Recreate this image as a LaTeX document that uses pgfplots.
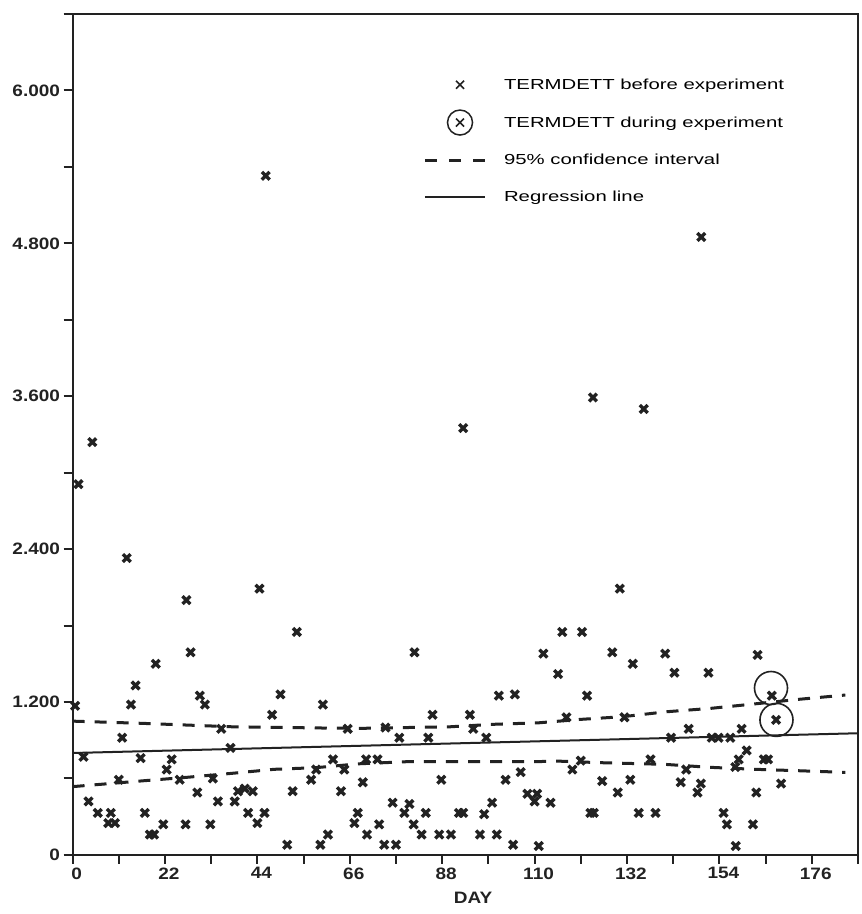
\documentclass[border=0pt]{standalone}
\usepackage{fontspec}
\setmainfont{Liberation Sans}
\newfontfamily\legfont[FakeStretch=1.4]{Liberation Sans}
\newfontfamily\tickfont[FakeStretch=1.15]{Liberation Sans}
\usepackage{pgfplots}
\pgfplotsset{compat=1.18}
\definecolor{ink}{HTML}{222222}
\begin{document}
\begin{tikzpicture}
\begin{axis}[
  name=ax, scale only axis, width=784.5pt, height=840pt,
  xmin=0, xmax=187, ymin=0, ymax=6.6,
  axis line style={line width=2pt, ink},
  tick pos=left, tick align=outside,
  major tick length=9pt, minor tick length=9pt,
  major tick style={line width=2pt, ink},
  minor tick style={line width=2pt, ink},
  xtick={0,22,44,66,88,110,132,154,176},
  minor xtick={11,33,55,77,99,121,143,165,187},
  ytick={0,1.2,2.4,3.6,4.8,6.0},
  yticklabels={0,1.200,2.400,3.600,4.800,6.000},
  minor ytick={0.6,1.8,3.0,4.2,5.4,6.6},
  ticklabel style={font=\tickfont\bfseries\fontsize{16.5}{18}\selectfont, text=ink},
  xticklabel style={xshift=4pt},
  /pgf/number format/assume math mode=true,
  xlabel={DAY},
  xlabel style={font=\tickfont\bfseries\fontsize{16.5}{18}\selectfont, text=ink,
    at={(axis description cs:0.51,0)}, anchor=center, yshift=-43pt},
  clip=false,
  legend cell align=left,
  legend style={at={(rel axis cs:0.4468,0.931)}, anchor=north west,
    draw=none, fill=none, inner sep=0pt, row sep=12pt, column sep=0pt,
    font=\legfont\fontsize{14.5}{16}\selectfont,
    nodes={inner sep=0pt}},
]
\addplot[only marks, mark=x, mark size=5.5pt, color=ink,
  mark options={line width=3.4pt},
  legend image code/.code={\path[draw=none,fill=none] (0,-12.5pt) rectangle (79pt,12.5pt);
    \draw[line width=1.5pt, solid] (31pt,-4pt)--(39pt,4pt) (31pt,4pt)--(39pt,-4pt);}]
coordinates {
(1.4,2.91)(4.7,3.24)(46.0,5.33)
(12.9,2.33)(44.5,2.09)(27.1,2.00)(53.4,1.75)(28.1,1.59)(19.8,1.50)(15.0,1.33)
(30.3,1.25)(31.5,1.18)(49.5,1.26)(0.6,1.17)(13.9,1.18)(47.5,1.10)(59.6,1.18)
(35.4,0.99)(11.8,0.92)(37.6,0.84)(2.6,0.77)(16.2,0.76)(23.6,0.75)(22.4,0.67)
(62.0,0.75)(11.0,0.59)(25.5,0.59)(33.4,0.60)(58.0,0.67)(56.8,0.59)(3.8,0.42)
(6.0,0.33)(9.1,0.33)(8.5,0.25)(10.1,0.25)(29.7,0.49)(34.6,0.42)(39.4,0.50)
(41.0,0.52)(42.9,0.50)(38.6,0.42)(52.4,0.50)(17.2,0.33)(18.4,0.16)(19.4,0.16)
(21.6,0.24)(26.9,0.24)(32.8,0.24)(41.8,0.33)(45.7,0.33)(44.0,0.25)(51.1,0.08)
(59.0,0.08)(60.8,0.16)
(93.0,3.35)
(81.4,1.59)(116.6,1.75)(121.3,1.75)(112.1,1.58)(115.6,1.42)(101.5,1.25)(105.3,1.26)
(122.5,1.25)(85.7,1.10)(94.6,1.10)(65.5,0.99)(74.5,1.00)(95.4,0.99)(77.8,0.92)
(84.7,0.92)(98.5,0.92)(117.6,1.08)(64.7,0.67)(69.9,0.75)(72.6,0.75)(69.1,0.57)
(63.9,0.50)(87.8,0.59)(103.1,0.59)(106.7,0.65)(121.0,0.74)(119.0,0.67)(76.2,0.41)
(80.2,0.40)(79.0,0.33)(84.1,0.33)(81.2,0.24)(83.1,0.16)(87.3,0.16)(90.1,0.16)
(92.0,0.33)(93.0,0.33)(98.0,0.32)(99.9,0.41)(97.0,0.16)(101.0,0.16)(67.9,0.33)
(67.1,0.25)(73.0,0.24)(70.1,0.16)(74.2,0.08)(77.0,0.08)(104.9,0.08)(111.0,0.07)
(108.3,0.48)(110.6,0.48)(110.0,0.42)(113.8,0.41)(123.3,0.33)
(149.7,4.85)(123.9,3.59)(136.0,3.50)
(130.3,2.09)(128.5,1.59)(133.4,1.50)(141.1,1.58)(143.3,1.43)(151.4,1.43)(163.1,1.57)
(131.4,1.08)(146.7,0.99)(142.5,0.92)(159.3,0.99)(152.2,0.92)(153.8,0.92)(156.6,0.92)
(160.5,0.82)(158.6,0.75)(164.6,0.75)(165.6,0.75)(137.6,0.75)(146.1,0.67)(157.8,0.69)
(126.1,0.58)(132.8,0.59)(129.8,0.49)(144.8,0.57)(149.6,0.56)(148.8,0.49)(162.8,0.49)
(168.7,0.56)(124.1,0.33)(134.8,0.33)(138.8,0.33)(155.0,0.33)(155.8,0.24)(162.0,0.24)
(157.9,0.07)
};
\addlegendentry{TERMDETT before experiment}
\addplot[only marks, mark=x, mark size=5.5pt, color=ink,
  mark options={line width=3.4pt},
  legend image code/.code={\path[draw=none,fill=none] (0,-12.5pt) rectangle (79pt,12.5pt);
    \draw[line width=1.5pt, solid] (31pt,-4pt)--(39pt,4pt) (31pt,4pt)--(39pt,-4pt);
    \draw[line width=1.5pt, solid] (35pt,0pt) circle (12.5pt);}]
coordinates {(166.5,1.25)(167.5,1.06)};
\addlegendentry{TERMDETT during experiment}
\addplot[only marks, mark=o, mark size=16.5pt, color=ink, forget plot,
  mark options={line width=1.6pt}]
coordinates {(166.3,1.31)(167.6,1.06)};
\addplot[line width=3pt, color=ink, dash pattern=on 12pt off 10pt,
  legend image code/.code={\path[draw=none,fill=none] (0,-12.5pt) rectangle (79pt,12.5pt);
    \draw[line width=2.6pt, dash pattern=on 12pt off 12pt] (0pt,0pt)--(60pt,0pt);}]
coordinates {(0,1.05)(16.4,1.033)(37.8,1.006)(62,0.995)(69.5,0.994)(90,1.006)
(100,1.025)(111,1.037)(121,1.064)(131,1.085)(141.5,1.124)(151.8,1.15)(162,1.184)
(172.5,1.22)(184,1.255)};
\addlegendentry{95\% confidence interval}
\addplot[line width=3pt, color=ink, dash pattern=on 12pt off 10pt, forget plot]
coordinates {(0,0.536)(17.2,0.583)(27.5,0.61)(37.8,0.64)(48,0.672)(58,0.685)
(68,0.715)(79.7,0.732)(90,0.732)(100,0.732)(110.6,0.732)(115,0.737)(125.7,0.724)
(141,0.711)(151.5,0.688)(162.5,0.672)(172.8,0.661)(184,0.648)};
\addplot[line width=2pt, color=ink,
  legend image code/.code={\path[draw=none,fill=none] (0,-12.5pt) rectangle (79pt,12.5pt);
    \draw[line width=2pt] (0pt,0pt)--(60pt,0pt);}]
coordinates {(0,0.80)(187,0.955)};
\addlegendentry{Regression line}
\end{axis}
\path ([shift={(-72.5pt,-59pt)}]ax.south west) rectangle ([shift={(4pt,14pt)}]ax.north east);
\end{tikzpicture}
\end{document}
